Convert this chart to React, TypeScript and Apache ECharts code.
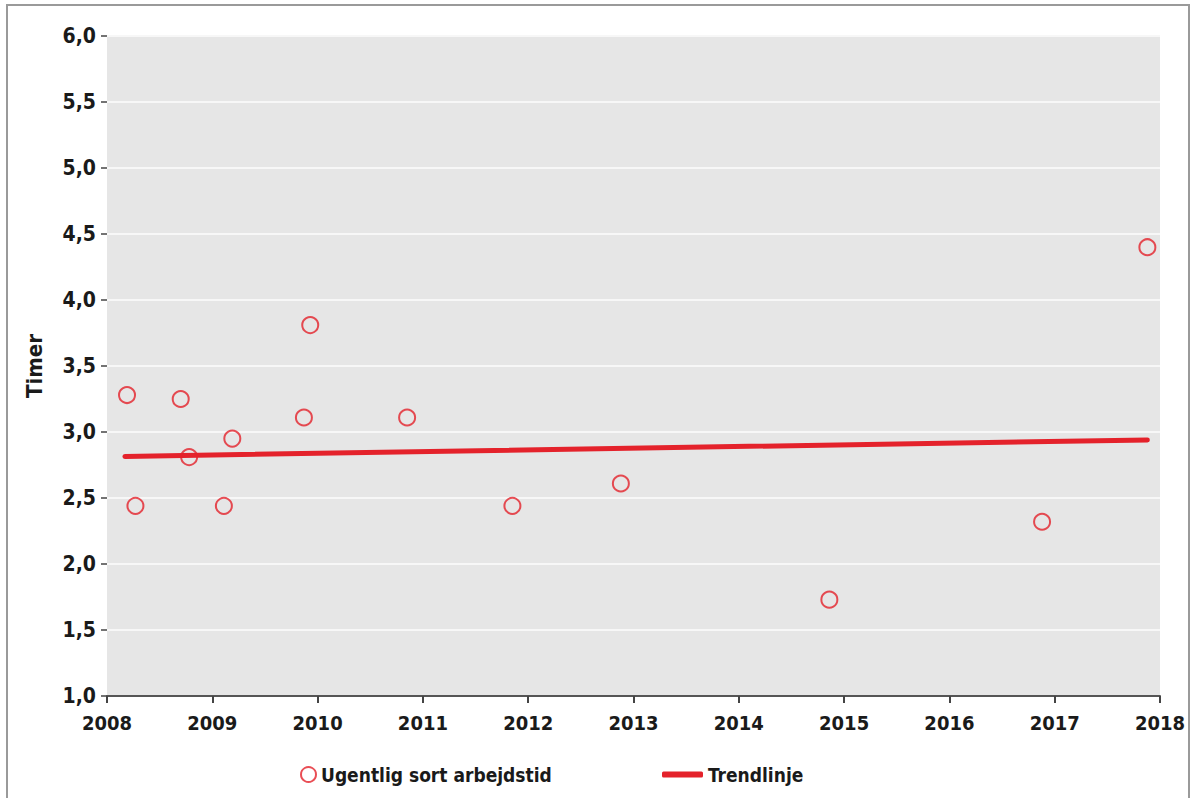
import React, { useEffect, useRef } from "react";
import * as echarts from "echarts";

const yearX: number[] = [2008.19, 2008.27, 2008.70, 2008.78, 2009.11, 2009.19, 2009.87, 2009.93, 2010.85, 2011.85, 2012.88, 2014.86, 2016.88, 2017.88];
const hours: number[] = [3.28, 2.44, 3.25, 2.81, 2.44, 2.95, 3.11, 3.81, 3.11, 2.44, 2.61, 1.73, 2.32, 4.40];
const trendX: number[] = [2008.17, 2017.88];
const trendY: number[] = [2.815, 2.94];
const yTicks = { min: 1, max: 6, interval: 0.5 };
const xTicks = { min: 2008, max: 2018, interval: 1 };
const scatterName = "Ugentlig sort arbejdstid";
const trendName = "Trendlinje";

const FONT = '"DejaVu Sans Condensed", "Liberation Sans Narrow", sans-serif';
const RED = "#e4222b";
const TEXT = "#1a1a1a";

export default function App() {
  const ref = useRef<HTMLDivElement>(null);
  useEffect(() => {
    if (!ref.current) return;
    const chart = echarts.init(ref.current, null, { renderer: "svg" });
    const scatterData = yearX.map((x, i) => [x, hours[i]]);
    const trendData = trendX.map((x, i) => [x, trendY[i]]);
    chart.setOption({
      animation: false,
      backgroundColor: "#ffffff",
      textStyle: { fontFamily: FONT },
      graphic: [
        {
          type: "rect",
          shape: { x: 7, y: 5, width: 1182, height: 810 },
          style: { fill: "none", stroke: "#9a9a9a", lineWidth: 2 },
          silent: true,
        },
      ],
      grid: {
        left: 107,
        right: 32,
        top: 36,
        bottom: 102,
        show: true,
        backgroundColor: "#e6e6e6",
        borderWidth: 0,
      },
      legend: [
        {
          data: [{ name: scatterName, icon: "circle" }],
          left: 300,
          top: 765,
          padding: 0,
          itemWidth: 15,
          itemHeight: 15,
          itemStyle: { color: "rgba(0,0,0,0)", borderColor: RED, borderWidth: 2 },
          textStyle: { fontFamily: FONT, fontWeight: "bold", fontSize: 19, color: TEXT },
        },
        {
          data: [{ name: trendName, icon: "roundRect" }],
          left: 662,
          top: 765,
          padding: 0,
          itemWidth: 41,
          itemHeight: 6,
          itemStyle: { color: RED },
          textStyle: { fontFamily: FONT, fontWeight: "bold", fontSize: 19, color: TEXT },
        },
      ],
      xAxis: {
        type: "value",
        min: xTicks.min,
        max: xTicks.max,
        interval: xTicks.interval,
        axisLine: { show: true, lineStyle: { color: "#555555", width: 2 } },
        axisTick: { show: true, length: 7, lineStyle: { color: "#444444", width: 2 } },
        splitLine: { show: false },
        axisLabel: {
          margin: 17,
          fontFamily: FONT,
          fontWeight: "bold",
          fontSize: 20,
          color: TEXT,
          formatter: (v: number) => String(v),
        },
      },
      yAxis: {
        type: "value",
        min: yTicks.min,
        max: yTicks.max,
        interval: yTicks.interval,
        name: "Timer",
        nameLocation: "middle",
        nameGap: 62,
        nameTextStyle: { fontFamily: FONT, fontWeight: "bold", fontSize: 22, color: TEXT },
        axisLine: { show: false },
        axisTick: { show: true, length: 6, lineStyle: { color: "#444444", width: 1.5 } },
        splitLine: { show: true, lineStyle: { color: "#f7f7f7", width: 2 } },
        axisLabel: {
          margin: 11,
          fontFamily: FONT,
          fontWeight: "bold",
          fontSize: 21,
          color: TEXT,
          formatter: (v: number) => v.toFixed(1).replace(".", ","),
        },
      },
      series: [
        {
          name: scatterName,
          type: "scatter",
          data: scatterData,
          symbol: "circle",
          symbolSize: 16,
          itemStyle: { color: "rgba(0,0,0,0)", borderColor: RED, borderWidth: 2 },
          z: 3,
        },
        {
          name: trendName,
          type: "line",
          data: trendData,
          showSymbol: false,
          symbol: "none",
          lineStyle: { color: RED, width: 5, cap: "round" },
          itemStyle: { color: RED },
          z: 2,
        },
      ],
    });
    return () => chart.dispose();
  }, []);
  return (
    <div
      ref={ref}
      style={{ position: "fixed", left: 0, top: 0, width: 1192, height: 798 }}
    />
  );
}
